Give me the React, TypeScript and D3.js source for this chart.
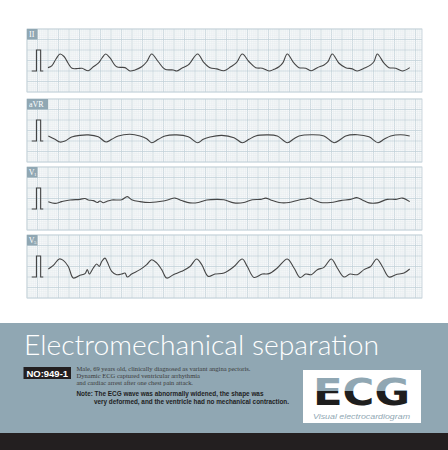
import React from "react";
import * as d3 from "d3";

// Recording: 25 mm/s, 10 mm/mV. Times in seconds, amplitudes in mV.
const leadNames = ["II", "aVR", "V1", "V5"];

const calT = [0.09, 0.18, 0.18, 0.26, 0.26, 0.31];
const calV = [0, 0, 1, 1, 0, 0];

const leadII: [number, number][] = [
  [0.400, 0.16], [0.476, 0.26], [0.552, 0.57], [0.629, 0.81], [0.705, 0.69], [0.781, 0.38], [0.857, 0.13],
  [0.971, 0.12], [1.048, 0.13], [1.168, 0.01], [1.263, 0.20], [1.358, 0.37], [1.429, 0.62], [1.499, 0.81],
  [1.581, 0.62], [1.709, 0.20], [1.867, 0.16], [1.962, 0.00], [2.057, 0.05], [2.185, 0.20], [2.280, 0.44],
  [2.375, 0.81], [2.501, 0.44], [2.629, 0.08], [2.787, 0.05], [2.851, 0.00], [2.947, 0.13], [3.072, 0.29],
  [3.251, 0.81], [3.358, 0.44], [3.486, 0.16], [3.613, 0.10], [3.752, 0.01], [3.880, 0.20], [3.990, 0.40],
  [4.101, 0.81], [4.229, 0.44], [4.356, 0.16], [4.482, 0.13], [4.610, 0.00], [4.705, 0.08], [4.800, 0.20],
  [4.876, 0.40], [4.958, 0.81], [5.086, 0.37], [5.181, 0.16], [5.309, 0.13], [5.415, 0.01], [5.530, 0.16],
  [5.657, 0.29], [5.733, 0.45], [5.815, 0.81], [5.943, 0.37], [6.070, 0.16], [6.196, 0.10], [6.291, 0.00],
  [6.419, 0.13], [6.547, 0.29], [6.610, 0.45], [6.672, 0.81], [6.800, 0.37], [6.895, 0.16], [7.023, 0.13],
  [7.149, 0.00], [7.290, 0.16],
];

const leadAVR: [number, number][] = [
  [0.406, 0.24], [0.533, 0.08], [0.629, -0.05], [0.724, 0.00], [0.851, 0.19], [1.010, 0.27], [1.168, 0.29],
  [1.358, 0.20], [1.505, -0.05], [1.613, 0.08], [1.739, 0.24], [1.962, 0.32], [2.152, 0.24], [2.280, 0.11],
  [2.375, -0.08], [2.501, 0.08], [2.629, 0.24], [2.851, 0.29], [3.072, 0.20], [3.251, -0.08], [3.358, 0.08],
  [3.486, 0.19], [3.709, 0.27], [3.943, 0.16], [4.101, -0.08], [4.229, 0.08], [4.356, 0.24], [4.577, 0.29],
  [4.768, 0.24], [4.958, -0.08], [5.086, 0.11], [5.181, 0.24], [5.434, 0.30], [5.657, 0.24], [5.848, -0.08],
  [5.975, 0.08], [6.070, 0.24], [6.291, 0.30], [6.514, 0.20], [6.686, -0.08], [6.800, 0.08], [6.928, 0.24],
  [7.118, 0.30], [7.290, 0.24],
];

const leadV1: [number, number][] = [
  [0.406, 0.35], [0.533, 0.27], [0.661, 0.35], [0.819, 0.43], [1.010, 0.46], [1.105, 0.50], [1.168, 0.43],
  [1.263, 0.40], [1.339, 0.31], [1.390, 0.38], [1.453, 0.30], [1.518, 0.36], [1.613, 0.43], [1.804, 0.44],
  [1.910, 0.59], [1.994, 0.44], [2.152, 0.35], [2.343, 0.31], [2.596, 0.38], [2.691, 0.44], [2.819, 0.52],
  [2.947, 0.40], [3.105, 0.29], [3.263, 0.31], [3.423, 0.43], [3.613, 0.46], [3.752, 0.44], [3.943, 0.29],
  [4.133, 0.31], [4.291, 0.44], [4.451, 0.46], [4.547, 0.52], [4.642, 0.43], [4.800, 0.31], [4.990, 0.31],
  [5.181, 0.43], [5.309, 0.48], [5.390, 0.52], [5.467, 0.43], [5.594, 0.31], [5.785, 0.31], [5.975, 0.40],
  [6.166, 0.46], [6.280, 0.54], [6.387, 0.43], [6.514, 0.29], [6.672, 0.29], [6.863, 0.46], [7.023, 0.46],
  [7.149, 0.52], [7.290, 0.35],
];

const leadV5: [number, number][] = [
  [0.406, 0.38], [0.501, 0.55], [0.615, 0.86], [0.691, 0.79], [0.787, 0.50], [0.882, -0.05], [1.010, 0.08],
  [1.105, 0.16], [1.149, 0.35], [1.187, 0.14], [1.263, 0.43], [1.328, 0.62], [1.377, 0.50], [1.423, 0.74],
  [1.486, 0.90], [1.530, 0.71], [1.613, 0.27], [1.709, 0.11], [1.804, 0.14], [1.867, 0.19], [1.910, 0.00],
  [1.994, 0.14], [2.152, 0.35], [2.280, 0.59], [2.375, 0.82], [2.470, 0.67], [2.566, 0.35], [2.661, -0.05],
  [2.787, 0.11], [2.947, 0.27], [3.105, 0.50], [3.232, 0.86], [3.328, 0.59], [3.453, 0.03], [3.581, 0.14],
  [3.752, 0.19], [3.943, 0.50], [4.101, 0.86], [4.196, 0.50], [4.324, -0.02], [4.482, 0.14], [4.610, 0.16],
  [4.768, 0.43], [4.958, 0.86], [5.086, 0.43], [5.200, -0.02], [5.309, 0.14], [5.415, 0.11], [5.530, 0.35],
  [5.657, 0.46], [5.796, 0.86], [5.910, 0.43], [6.038, 0.00], [6.152, 0.14], [6.291, 0.11], [6.419, 0.35],
  [6.547, 0.50], [6.661, 0.86], [6.768, 0.50], [6.895, 0.00], [7.023, 0.11], [7.181, 0.19], [7.290, 0.38],
];

const leads = [leadII, leadAVR, leadV1, leadV5];

const titleText = "Electromechanical separation";
const caseNo = "NO:949-1";
const historyLines = [
  "Male, 69 years old, clinically diagnosed as variant angina pectoris.",
  "Dynamic ECG captured ventricular arrhythmia",
  "and cardiac arrest after one chest pain attack.",
];
const historyWidths = [174, 123.5, 116.5];
const noteLines = [
  "Note: The ECG wave was abnormally widened, the shape was",
  "very deformed, and the ventricle had no mechanical contraction.",
];

const W = 448;
const H = 450;
const panelLeft = 27;
const panelRight = 422;
const panelTops = [29, 99, 167, 235];
const panelH = 63;
const pxPerSec = 52.5;
const slate = "#90a7b3";

const x = d3
  .scaleLinear()
  .domain([0, (panelRight - panelLeft) / pxPerSec])
  .range([panelLeft, panelRight]);

function Panel({ idx }: { idx: number }) {
  const top = panelTops[idx];
  const y = d3.scaleLinear().domain([-1, 2]).range([top + panelH, top]);
  const [t0, t1] = x.domain();
  const minorX = d3.range(t0, t1 + 1e-9, 0.04);
  const minorY = d3.range(-1, 2 + 1e-9, 0.1);
  const line = d3
    .line<[number, number]>()
    .x((d) => x(d[0]))
    .y((d) => y(d[1]))
    .curve(d3.curveCatmullRom.alpha(0.5));
  const cal = d3
    .line<number>()
    .x((_, i) => x(calT[i]))
    .y((v) => y(v));
  const name = leadNames[idx];
  const boxW = name === "aVR" ? 21 : 10.5;
  return (
    <g>
      <rect x={panelLeft} y={top} width={panelRight - panelLeft} height={panelH} fill="#f8fafb" />
      {minorX.map((t, i) => (
        <line
          key={"vx" + i}
          x1={x(t)}
          x2={x(t)}
          y1={top}
          y2={top + panelH}
          stroke={i % 5 === 0 ? "#c3d2d9" : "#e2e9ed"}
          strokeWidth={i % 5 === 0 ? 0.8 : 0.5}
        />
      ))}
      {minorY.map((v, i) => (
        <line
          key={"hy" + i}
          x1={panelLeft}
          x2={panelRight}
          y1={y(v)}
          y2={y(v)}
          stroke={i % 5 === 0 ? "#c3d2d9" : "#e2e9ed"}
          strokeWidth={i % 5 === 0 ? 0.8 : 0.5}
        />
      ))}
      <rect
        x={panelLeft}
        y={top}
        width={panelRight - panelLeft}
        height={panelH}
        fill="none"
        stroke="#c9d5db"
        strokeWidth={0.8}
      />
      <rect x={panelLeft} y={top} width={boxW} height={10.5} fill={slate} />
      {name.startsWith("V") ? (
        <g fill="#fff" fontFamily="Liberation Serif, serif">
          <text x={panelLeft + 1.8} y={top + 8} fontSize={8}>V</text>
          <text x={panelLeft + 7} y={top + 9.3} fontSize={5}>{name.slice(1)}</text>
        </g>
      ) : (
        <text x={panelLeft + 2} y={top + 8} fill="#fff" fontFamily="Liberation Serif, serif" fontSize={8}>
          {name}
        </text>
      )}
      <path d={cal(calV) ?? ""} fill="none" stroke="#444" strokeWidth={1.1} />
      <path d={line(leads[idx]) ?? ""} fill="none" stroke="#454545" strokeWidth={1.1} strokeLinejoin="round" />
    </g>
  );
}

export default function App() {
  return (
    <div style={{ position: "absolute", left: 0, top: 0 }}>
      <svg width={W} height={H} viewBox={`0 0 ${W} ${H}`} style={{ display: "block" }}>
        <defs>
          <linearGradient id="logoFill" gradientUnits="userSpaceOnUse" x1="0" y1="377" x2="0" y2="405">
            <stop offset="0.5" stopColor={slate} />
            <stop offset="0.5" stopColor="#1e1e1e" />
          </linearGradient>
        </defs>
        <rect x={0} y={0} width={W} height={H} fill="#fff" />
        {leadNames.map((_, i) => (
          <Panel key={i} idx={i} />
        ))}

        {/* caption band */}
        <rect x={0} y={323} width={W} height={110} fill={slate} />
        <rect x={0} y={433} width={W} height={17} fill="#231f20" />
        <text
          x={24}
          y={355}
          fill="#fff"
          fontFamily="Lato, 'Open Sans', sans-serif"
          fontWeight={300}
          fontSize={28}
          textLength={355}
          lengthAdjust="spacingAndGlyphs"
        >
          {titleText}
        </text>

        <rect x={23.5} y={367} width={47.5} height={12} fill="#231f20" />
        <text
          x={47.25}
          y={376.5}
          fill="#fff"
          fontFamily="Liberation Sans, Arial, sans-serif"
          fontWeight={700}
          fontSize={9.5}
          textAnchor="middle"
        >
          {caseNo}
        </text>
        {historyLines.map((s, i) => (
          <text
            key={s}
            x={76.5}
            y={370.5 + i * 7}
            fill="#3a3a3a"
            fontFamily="Liberation Serif, serif"
            fontSize={7}
            textLength={historyWidths[i]}
            lengthAdjust="spacingAndGlyphs"
          >
            {s}
          </text>
        ))}
        <text
          x={76.5}
          y={395.5}
          fill="#1e1e1e"
          fontFamily="Liberation Sans, Arial, sans-serif"
          fontWeight={700}
          fontSize={7}
          textLength={187}
          lengthAdjust="spacingAndGlyphs"
        >
          {noteLines[0]}
        </text>
        <text
          x={94}
          y={404}
          fill="#1e1e1e"
          fontFamily="Liberation Sans, Arial, sans-serif"
          fontWeight={700}
          fontSize={7}
          textLength={195}
          lengthAdjust="spacingAndGlyphs"
        >
          {noteLines[1]}
        </text>

        {/* logo */}
        <rect x={303} y={370} width={118} height={53} fill="#fff" />
        <text
          x={313}
          y={405}
          fill="url(#logoFill)"
          fontFamily="DejaVu Sans, sans-serif"
          fontWeight={700}
          fontSize={38}
          textLength={97}
          lengthAdjust="spacingAndGlyphs"
        >
          ECG
        </text>
        <text
          x={313}
          y={419}
          fill={slate}
          fontFamily="Liberation Sans, Arial, sans-serif"
          fontStyle="italic"
          fontSize={7}
          textLength={97}
          lengthAdjust="spacingAndGlyphs"
        >
          Visual electrocardiogram
        </text>
      </svg>
    </div>
  );
}
